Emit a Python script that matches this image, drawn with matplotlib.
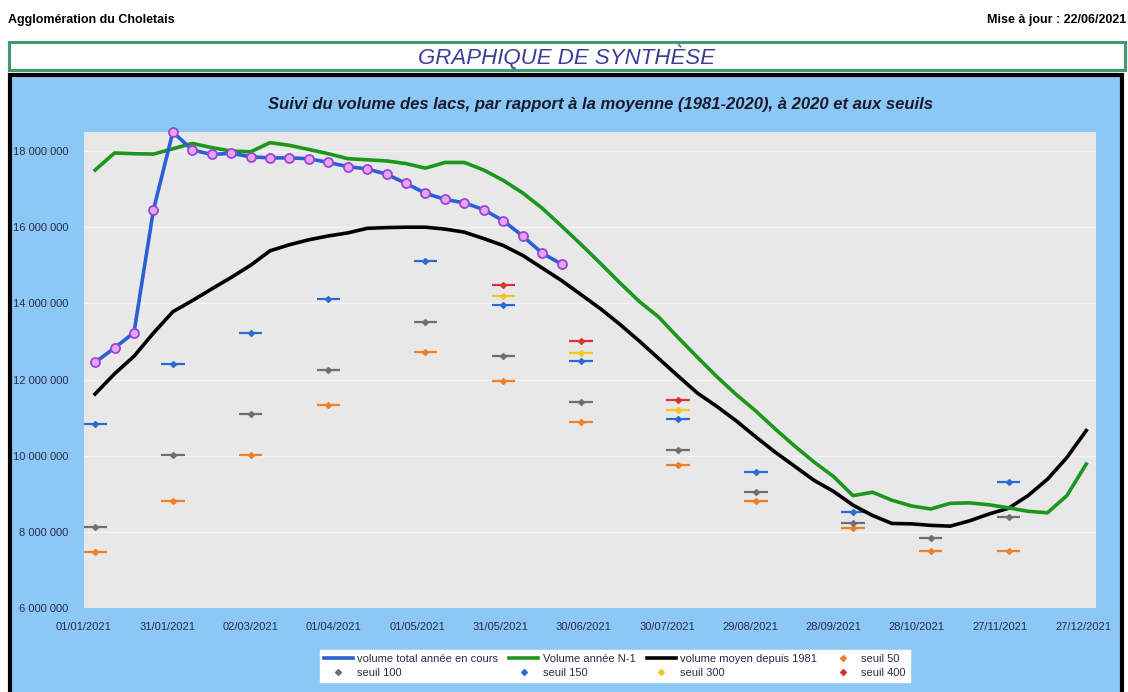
import matplotlib
matplotlib.use('Agg')
import matplotlib.pyplot as plt
import matplotlib.dates as mdates
from matplotlib.patches import Rectangle
from matplotlib.lines import Line2D
from matplotlib.ticker import FuncFormatter, MultipleLocator
import datetime as dt

W, H = 1128, 692
plt.rcParams['font.family'] = ['Liberation Sans', 'DejaVu Sans']

# ---------------- data ----------------
weekly_start = "2021-01-05"   # weekly points, every 7 days
n_weeks = 52

volume_current = [12.45, 12.83, 13.23, 16.45, 18.5, 18.03, 17.91, 17.94, 17.85, 17.82,
                  17.82, 17.8, 17.7, 17.59, 17.53, 17.39, 17.15, 16.89, 16.73, 16.64,
                  16.46, 16.17, 15.77, 15.32, 15.03]

volume_n1 = [17.5, 17.95, 17.93, 17.92, 18.06, 18.2, 18.09, 18.0, 17.98, 18.22,
             18.15, 18.04, 17.93, 17.8, 17.77, 17.74, 17.67, 17.55, 17.7, 17.7,
             17.5, 17.23, 16.9, 16.5, 16.03, 15.55, 15.05, 14.54, 14.05, 13.64,
             13.1, 12.58, 12.07, 11.6, 11.17, 10.7, 10.25, 9.83, 9.45, 8.95,
             9.04, 8.83, 8.68, 8.6, 8.75, 8.76, 8.71, 8.63, 8.54, 8.5,
             8.95, 9.78]

volume_mean = [11.62, 12.15, 12.61, 13.22, 13.78, 14.07, 14.38, 14.68, 15.0, 15.38,
               15.54, 15.67, 15.77, 15.85, 15.97, 15.99, 16.0, 16.0, 15.95, 15.87,
               15.7, 15.52, 15.26, 14.93, 14.6, 14.23, 13.86, 13.45, 13.01, 12.55,
               12.09, 11.64, 11.29, 10.91, 10.49, 10.09, 9.72, 9.35, 9.06, 8.7,
               8.43, 8.22, 8.21, 8.17, 8.15, 8.29, 8.47, 8.62, 8.95, 9.38,
               9.95, 10.66]

seuil_dates = ["2021-01-05", "2021-02-02", "2021-03-02", "2021-03-30", "2021-05-04",
               "2021-06-01", "2021-06-29", "2021-08-03", "2021-08-31", "2021-10-05",
               "2021-11-02", "2021-11-30"]
nan = float('nan')
seuil_50 = [7.48, 8.8, 10.01, 11.32, 12.73, 11.96, 10.89, 9.75, 8.8, 8.1, 7.5, 7.5]
seuil_100 = [8.12, 10.03, 11.1, 12.26, 13.5, 12.61, 11.4, 10.16, 9.04, 8.22, 7.84, 8.4]
seuil_150 = [10.82, 12.41, 13.22, 14.12, 15.1, 13.95, 12.48, 10.97, 9.58, 8.51, nan, 9.3]
seuil_300 = [nan, nan, nan, nan, nan, 14.19, 12.7, 11.21, nan, nan, nan, nan]
seuil_400 = [nan, nan, nan, nan, nan, 14.47, 13.0, 11.47, nan, nan, nan, nan]

tick_start = "2021-01-01"
n_ticks = 13
tick_step_days = 30

# ---------------- derived ----------------
d0 = dt.date.fromisoformat(weekly_start)
weekly_x = [mdates.date2num(d0 + dt.timedelta(days=7 * i)) for i in range(n_weeks)]
current_x = weekly_x[:len(volume_current)]
seuil_x = [mdates.date2num(dt.date.fromisoformat(s)) for s in seuil_dates]
t0 = dt.date.fromisoformat(tick_start)
tick_x = [mdates.date2num(t0 + dt.timedelta(days=tick_step_days * i)) for i in range(n_ticks)]
M = 1e6

fig = plt.figure(figsize=(W / 100, H / 100), dpi=100)
fig.patch.set_facecolor('white')

def fx(px):
    return px / W

def fy(py):
    return 1 - py / H

# header
fig.text(fx(8), fy(20), "Agglomération du Choletais", fontsize=9, fontweight='bold',
         ha='left', va='center', color='black')
fig.text(fx(1126), fy(20), "Mise à jour : 22/06/2021", fontsize=9, fontweight='bold',
         ha='right', va='center', color='black')

# green title box
fig.patches.append(Rectangle((fx(9), fy(70)), fx(1116), 28 / H, transform=fig.transFigure,
                             facecolor='white', edgecolor='#3f9a6e', lw=2.2, zorder=-2))
fig.text(fx(567), fy(56.5), "GRAPHIQUE DE SYNTHÈSE", fontsize=16, fontstyle='italic',
         ha='center', va='center', color='#3d3d96')

# chart box
fig.patches.append(Rectangle((fx(10), fy(700)), fx(1112), 625 / H, transform=fig.transFigure,
                             facecolor='#8cc8f5', edgecolor='black', lw=3, zorder=-2))
fig.text(fx(601), fy(104), "Suivi du volume des lacs, par rapport à la moyenne (1981-2020), à 2020 et aux seuils",
         fontsize=12, fontweight='bold', fontstyle='italic', ha='center', va='center',
         color='#1a1a2e')

ax = fig.add_axes([fx(84), fy(608), fx(1096 - 84), (608 - 132) / H])
ax.set_zorder(2)
ax.set_facecolor('#e8e8e8')
for s in ax.spines.values():
    s.set_visible(False)
ax.set_ylim(6 * M, 18.5 * M)
ax.set_xlim(tick_x[0], tick_x[0] + 364.5)
ax.yaxis.set_major_locator(MultipleLocator(2 * M))
ax.yaxis.set_major_formatter(FuncFormatter(lambda v, p: f"{int(round(v)):,}".replace(",", " ")))
ax.set_xticks(tick_x)
ax.xaxis.set_major_formatter(mdates.DateFormatter('%d/%m/%Y'))
ax.tick_params(axis='both', length=0, labelsize=8, labelcolor='#2a2a4a')
ax.tick_params(axis='y', pad=11)
ax.tick_params(axis='x', pad=10)
ax.grid(axis='y', color='#f4f4f4', lw=1.0)
ax.set_axisbelow(True)

# seuils
seuils = [
    (seuil_50, '#f08028', 'seuil 50'),
    (seuil_100, '#6e6e6e', 'seuil 100'),
    (seuil_150, '#2d6ad0', 'seuil 150'),
    (seuil_300, '#f2c81e', 'seuil 300'),
    (seuil_400, '#d83434', 'seuil 400'),
]
seuil_handles = {}
for vals, col, lab in seuils:
    ax.errorbar(seuil_x, [v * M for v in vals], xerr=4.2, fmt='D', ms=3, color=col,
                elinewidth=1.6, capsize=0, zorder=3)
    seuil_handles[lab] = Line2D([], [], ls='none', marker='D', ms=3, color=col)

ax.plot(weekly_x, [v * M for v in volume_mean], color='black', lw=2.6, zorder=4)
ax.plot(weekly_x, [v * M for v in volume_n1], color='#1c961c', lw=2.6, zorder=4)
ax.plot(current_x, [v * M for v in volume_current], color='#2a5fd6', lw=2.6,
        marker='o', ms=6.5, mfc='#e6a4f2', mec='#9b45d6', mew=1.3, zorder=5,
        clip_on=False)

h_cur_leg = Line2D([], [], color='#2a5fd6', lw=2.6)
h_n1_leg = Line2D([], [], color='#1c961c', lw=2.6)
h_mean_leg = Line2D([], [], color='black', lw=2.6)

handles = [h_cur_leg, seuil_handles['seuil 100'], h_n1_leg, seuil_handles['seuil 150'],
           h_mean_leg, seuil_handles['seuil 300'], seuil_handles['seuil 50'],
           seuil_handles['seuil 400']]
labels = ['volume total année en cours', 'seuil 100', 'Volume année N-1', 'seuil 150',
          'volume moyen depuis 1981', 'seuil 300', 'seuil 50', 'seuil 400']
leg = fig.legend(handles, labels, ncol=4, loc='center', bbox_to_anchor=(fx(615), fy(666)),
                 fontsize=8, frameon=True, fancybox=False, edgecolor='white',
                 facecolor='white', framealpha=1, handlelength=2.6, handletextpad=0.4,
                 columnspacing=1.0, labelspacing=0.3, borderpad=0.4)
for t in leg.get_texts():
    t.set_color('#2a2a4a')

fig.savefig('out.png', dpi=100, facecolor=fig.get_facecolor())
